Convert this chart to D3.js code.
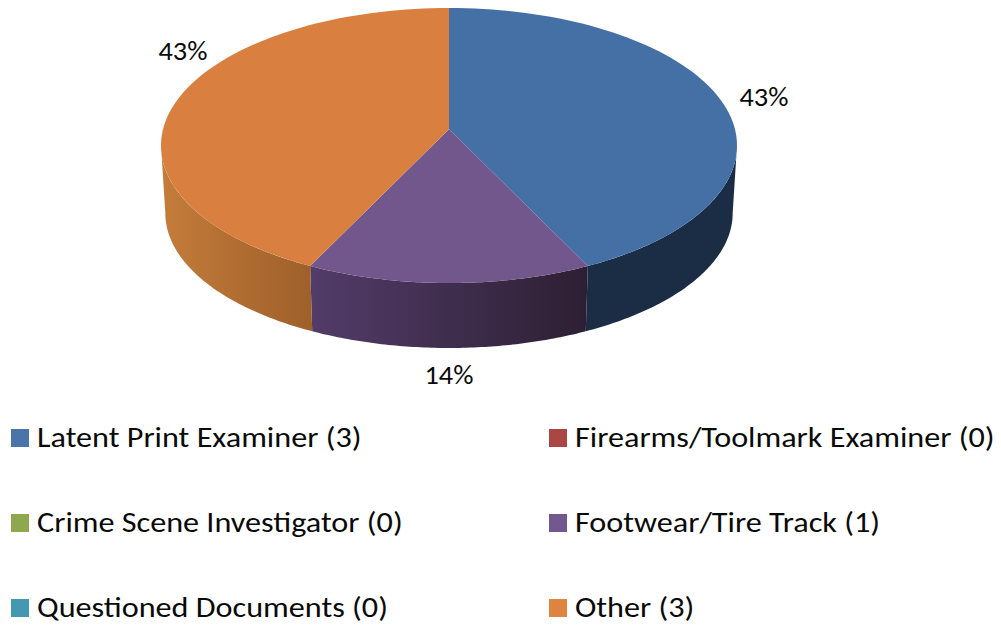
<!DOCTYPE html>
<html><head><meta charset="utf-8">
<script src="https://cdn.jsdelivr.net/npm/d3@7/dist/d3.min.js"></script>
<style>html,body{margin:0;padding:0;background:#fff}svg{display:block}text{font-family:Carlito,Lato,"Open Sans",sans-serif;fill:#0a0a0a}</style>
</head><body><svg id="c" width="1001" height="626"></svg>
<script>
const categories = ["Latent Print Examiner","Firearms/Toolmark Examiner","Crime Scene Investigator","Footwear/Tire Track","Questioned Documents","Other"];
const counts = [3,0,0,1,0,3];
const topColors = ["#4570a6","#aa4644","#8ea84f","#72578c","#4399b0","#d98040"];
const legendColors = ["#4a74aa","#aa4644","#8fa850","#72588f","#4499b0","#dd8540"];
const wallFrom = ["#1a2d45","#5a2322","#475428","#523c69","#225866","#c47c3a"];
const wallTo = ["#1a2d45","#5a2322","#475428","#2d1f33","#225866","#9f602b"];
const labelPositions = [[764,97],null,null,[449,375],null,[183,51]];

const svg = d3.select("#c"), defs = svg.append("defs");
const k = 0.118;
const topFace = {cx:449, cy:129.3, a:286, b:135.6};
const baseFace = {cx:449, cy:197.2, a:281.7, b:133};
const project = (f,t) => {
  const u = Math.sin(t), v = -Math.cos(t), w = 1 - k*v;
  return [f.cx + f.a*u/w, f.cy + f.b*v/w];
};
const arcs = d3.pie().value(d=>d).sort(null)(counts).map((d,i)=>({...d,i}));
const line = d3.line();
const samples = (s,e) => d3.range(0,81).map(j=>s+(e-s)*j/80);
// the wall is visible only between the two points where the projected rim is widest
const rimRight = Math.acos(-k), rimLeft = 2*Math.PI - rimRight;

const walls = svg.append("g"), tops = svg.append("g");
arcs.filter(d=>d.value>0).forEach(d=>{
  const upper = samples(d.startAngle,d.endAngle).map(t=>project(topFace,t));
  const c = [topFace.cx, topFace.cy];
  tops.append("path").attr("d",line([c].concat(upper))+"Z").attr("fill",topColors[d.i]);

  const s = Math.max(d.startAngle,rimRight), e = Math.min(d.endAngle,rimLeft);
  if (e <= s) return;
  const ts = samples(s,e);
  const wallTop = ts.map(t=>project(topFace,t));
  const wallBase = ts.map(t=>project(baseFace,t)).reverse();
  const xs = d3.extent(wallTop,p=>p[0]);
  const id = "wall"+d.i;
  const grad = defs.append("linearGradient").attr("id",id).attr("gradientUnits","userSpaceOnUse")
    .attr("x1",xs[0]).attr("x2",xs[1]).attr("y1",0).attr("y2",0);
  grad.append("stop").attr("offset",0).attr("stop-color",wallFrom[d.i]);
  grad.append("stop").attr("offset",1).attr("stop-color",wallTo[d.i]);
  walls.append("path").attr("d",line(wallTop.concat(wallBase))+"Z").attr("fill",`url(#${id})`);
});

const total = d3.sum(counts);
const pct = d3.format(".0%");
svg.append("g").selectAll("text").data(arcs.filter(d=>d.value>0)).join("text")
  .attr("transform",d=>`translate(${labelPositions[d.i][0]},${labelPositions[d.i][1]}) scale(1.09,1)`)
  .attr("dy","0.35em").attr("text-anchor","middle").attr("font-size",26)
  .text(d=>pct(d.value/total));

const col = d3.scaleOrdinal().domain([0,1]).range([11,549]);
const row = d3.scalePoint().domain([0,1,2]).range([438,608]);
const lg = svg.append("g").selectAll("g").data(categories).join("g")
  .attr("transform",(d,i)=>`translate(${col(i%2)},${row(Math.floor(i/2))})`);
lg.append("rect").attr("x",0).attr("y",-9).attr("width",18).attr("height",18).attr("fill",(d,i)=>legendColors[i]);
lg.append("text").attr("transform","translate(26,-1) scale(1.15,1)").attr("dy","0.35em").attr("font-size",28).text((d,i)=>`${d} (${counts[i]})`);
</script></body></html>
